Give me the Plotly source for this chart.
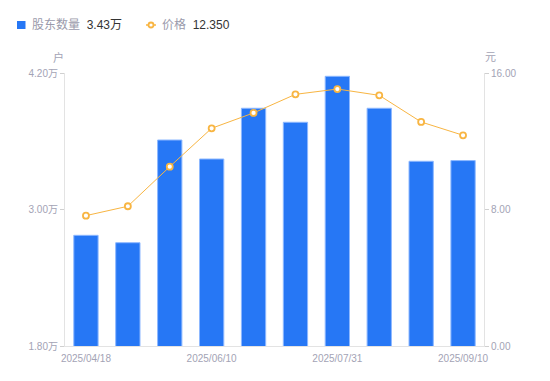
import plotly.graph_objects as go

dates = ["2025/04/18", "2025/04/30", "2025/05/20", "2025/06/10", "2025/06/30",
         "2025/07/10", "2025/07/31", "2025/08/10", "2025/08/31", "2025/09/10"]
holders = [2.773, 2.708, 3.611, 3.444, 3.890, 3.767, 4.171, 3.890, 3.424, 3.43]  # 万户
price = [7.64, 8.19, 10.51, 12.76, 13.66, 14.75, 15.06, 14.69, 13.13, 12.35]
tick_dates = ["2025/04/18", "2025/06/10", "2025/07/31", "2025/09/10"]
left_ticks = [1.8, 3.0, 4.2]
left_labels = ["1.80万", "3.00万", "4.20万"]
right_ticks = [0, 8, 16]
right_labels = ["0.00", "8.00", "16.00"]

FONT = "Liberation Sans, Noto Sans CJK SC, sans-serif"
GRAY = "#a3a3b5"
BLUE = "#2677f5"
ORANGE = "#f8b542"

# page has an 8px body margin; compensate so the plot area lands at page (65..484, 73..346)
OFF = 8
fig = go.Figure()
fig.add_trace(go.Bar(
    x=dates, y=holders, name="股东数量",
    marker=dict(color=BLUE, line=dict(color="#8db8ff", width=1)),
    yaxis="y", showlegend=False,
))
fig.add_trace(go.Scatter(
    x=dates, y=price, name="价格", mode="lines+markers", yaxis="y2",
    line=dict(color=ORANGE, width=1),
    marker=dict(symbol="circle", size=6, color="white", line=dict(color=ORANGE, width=1.8)),
    showlegend=False,
))

fig.update_layout(
    width=550 - OFF, height=381 - OFF,
    margin=dict(l=65 - OFF, r=550 - 484, t=73 - OFF, b=381 - 346, pad=0),
    paper_bgcolor="white", plot_bgcolor="white",
    font=dict(family=FONT, size=10, color=GRAY),
    bargap=0.42,
    xaxis=dict(
        type="category", tickmode="array", tickvals=tick_dates, ticktext=tick_dates,
        showline=True, linecolor="#e3e3e3", linewidth=1, showgrid=False,
        ticks="outside", ticklen=3, tickcolor="rgba(0,0,0,0)",
        tickfont=dict(size=10, color=GRAY), range=[-0.5, 9.5],
    ),
    yaxis=dict(
        range=[1.8, 4.2], tickmode="array", tickvals=left_ticks, ticktext=left_labels,
        showline=True, linecolor="#e3e3e3", linewidth=1, showgrid=False, zeroline=False,
        ticks="outside", ticklen=4, tickcolor="#d0d0d0", tickfont=dict(size=10, color=GRAY),
    ),
    yaxis2=dict(
        range=[0, 16], tickmode="array", tickvals=right_ticks, ticktext=right_labels,
        overlaying="y", side="right",
        showline=True, linecolor="#e3e3e3", linewidth=1, showgrid=False, zeroline=False,
        ticks="outside", ticklen=4, tickcolor="#d0d0d0", tickfont=dict(size=10, color=GRAY),
    ),
    showlegend=False,
)


def px(xp):
    return (xp - 65) / 419


def py(yp):
    return (346 - yp) / 273


# axis unit titles
fig.add_annotation(text="户", x=px(58), y=py(57), xref="paper", yref="paper", showarrow=False,
                   xanchor="center", yanchor="middle", font=dict(size=11, color=GRAY))
fig.add_annotation(text="元", x=px(490), y=py(57), xref="paper", yref="paper", showarrow=False,
                   xanchor="center", yanchor="middle", font=dict(size=11, color=GRAY))

# custom legend
LY = 25
fig.add_shape(type="rect", xref="paper", yref="paper",
              x0=px(17), x1=px(25.5), y0=py(29), y1=py(21),
              fillcolor=BLUE, line=dict(width=0))
fig.add_annotation(xref="paper", yref="paper", x=px(30), y=py(LY), xanchor="left", yanchor="middle",
                   showarrow=False,
                   text="<span style='color:#9a9aab'>股东数量</span>  <span style='color:#333333'>3.43万</span>",
                   font=dict(size=12))
fig.add_shape(type="line", xref="paper", yref="paper",
              x0=px(146), x1=px(156), y0=py(LY), y1=py(LY),
              line=dict(color=ORANGE, width=1.5))
fig.add_shape(type="circle", xref="paper", yref="paper",
              x0=px(148.5), x1=px(153.5), y0=py(LY + 2.5), y1=py(LY - 2.5),
              fillcolor="white", line=dict(color=ORANGE, width=1.8))
fig.add_annotation(xref="paper", yref="paper", x=px(160), y=py(LY), xanchor="left", yanchor="middle",
                   showarrow=False,
                   text="<span style='color:#9a9aab'>价格</span>  <span style='color:#333333'>12.350</span>",
                   font=dict(size=12))

fig.write_html("out.html")
